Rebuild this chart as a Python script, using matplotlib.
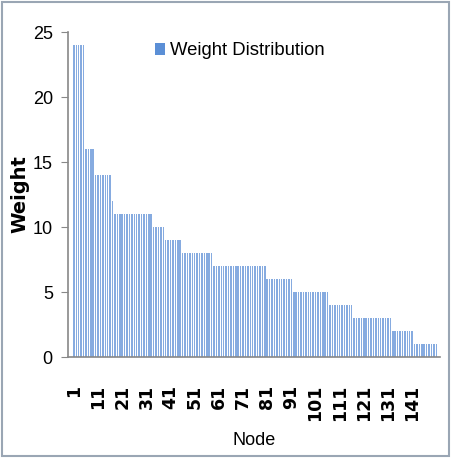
import numpy as np
import matplotlib
matplotlib.use("Agg")
import matplotlib.pyplot as plt
from matplotlib.patches import Rectangle, Patch

# weight levels and how many nodes sit at each level
levels = [24, 16, 14, 12, 11, 10, 9, 8, 7, 6, 5, 4, 3, 2, 1]
counts = [5, 4, 7, 1, 16, 5, 7, 13, 22, 11, 15, 10, 16, 9, 10]

weights = np.repeat(levels, counts)
nodes = np.arange(1, len(weights) + 1)
tick_nodes = list(range(1, 142, 10))

plt.rcParams["font.family"] = ["Liberation Sans", "DejaVu Sans"]

fig = plt.figure(figsize=(4.51, 4.58), dpi=100)
ax = fig.add_axes([0.151, 0.2205, 0.825, 0.7095])

ax.bar(nodes, weights, width=0.62, color="#86ABE0", edgecolor="none",
       antialiased=False)

ax.set_xlim(-1.4, 152.6)
ax.set_ylim(0, 25)
ax.set_yticks(range(0, 26, 5))
ax.set_xticks(tick_nodes)
ax.set_xticklabels([str(n) for n in tick_nodes], rotation=90,
                   fontsize=12.5, fontweight="bold", family="DejaVu Sans")
ax.tick_params(axis="x", length=0, pad=20)
ax.tick_params(axis="y", labelsize=13, direction="out", length=5,
               color="#888888", pad=6)

for s in ["top", "right"]:
    ax.spines[s].set_visible(False)
for s in ["left", "bottom"]:
    ax.spines[s].set_color("#888888")
    ax.spines[s].set_linewidth(1.2)

ax.set_ylabel("Weight", fontsize=14, fontweight="bold",
              family="DejaVu Sans")
ax.yaxis.set_label_coords(-0.105, 0.5)
ax.set_xlabel("Node", fontsize=13, labelpad=8)

handle = Patch(facecolor="#5B8FD6", edgecolor="none")
ax.legend([handle], ["Weight Distribution"], loc="upper left",
          bbox_to_anchor=(0.19, 1.02), frameon=False, fontsize=13.3,
          handlelength=0.5, handleheight=0.6, handletextpad=0.3)

fig.patches.append(Rectangle((0.004, 0.004), 0.992, 0.992,
                             transform=fig.transFigure, fill=False,
                             edgecolor="#9AA6B4", linewidth=1.5))

fig.savefig("out.png", dpi=100)
